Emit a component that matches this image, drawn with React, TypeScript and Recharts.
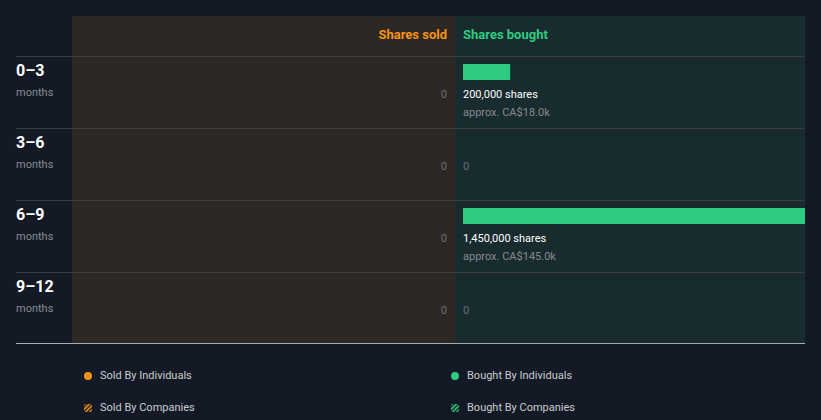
import { Bar, BarChart, LabelList, XAxis, YAxis } from 'recharts'

const periods = ['0–3', '3–6', '6–9', '9–12']
const soldShares = [0, 0, 0, 0]
const boughtShares = [200000, 0, 1450000, 0]
const boughtValue = [18000, 0, 145000, 0]

const legendItems = [
  { label: 'Sold By Individuals', color: '#f7931a', striped: false },
  { label: 'Bought By Individuals', color: '#2ecc80', striped: false },
  { label: 'Sold By Companies', color: '#f7931a', striped: true },
  { label: 'Bought By Companies', color: '#2ecc80', striped: true },
]

const palette = {
  bg: '#141a25',
  sold: '#2d2823',
  bought: '#182b2e',
  green: '#2ecc80',
  orange: '#f7931a',
  grid: '#3a3d3f',
  axis: '#a3aeb2',
  muted: '#858a91',
  zero: '#6b7070',
}

const data = periods.map((period, i) => ({
  period,
  sold: soldShares[i],
  bought: boughtShares[i],
  value: boughtValue[i],
}))

const ROW_HALF = 36
const font = 'Roboto, "Noto Sans", sans-serif'

const fmtK = (v: number) => `CA$${(v / 1000).toFixed(1)}k`

function PeriodTick(props: any) {
  const { y, payload, index } = props
  const last = index === periods.length - 1
  return (
    <g>
      <line x1={16} x2={805} y1={y - ROW_HALF + 0.5} y2={y - ROW_HALF + 0.5} stroke={palette.grid} />
      {last && <line x1={16} x2={805} y1={y + ROW_HALF - 0.5} y2={y + ROW_HALF - 0.5} stroke={palette.axis} />}
      <text x={16} y={y - 16} fill="#ffffff" fontSize={16} fontWeight={700} fontFamily={font}>
        {payload.value}
      </text>
      <text x={16} y={y + 4} fill={palette.muted} fontSize={11} fontFamily={font}>
        months
      </text>
    </g>
  )
}

function BoughtShape(props: any) {
  const { x, y, width, height } = props
  if (!width) return null
  return <rect x={x} y={y - 20} width={width} height={height} fill={palette.green} />
}

// sold and bought bars share one stack, so the bought label also carries the sold value on the left
function RowLabel(props: any) {
  const { x, y, height, value, index } = props
  const c = y + height / 2
  const sold = soldShares[index]
  return (
    <g fontFamily={font} fontSize={11}>
      <text x={x - 16} y={c + 6} textAnchor="end" fill={palette.zero}>
        {sold ? sold.toLocaleString('en-US') : '0'}
      </text>
      {value ? (
        <>
          <text x={x} y={c + 6} fill="#ffffff">
            {`${Number(value).toLocaleString('en-US')} shares`}
          </text>
          <text x={x} y={c + 24} fill={palette.muted}>
            {`approx. ${fmtK(boughtValue[index])}`}
          </text>
        </>
      ) : (
        <text x={x} y={c + 6} fill={palette.zero}>
          0
        </text>
      )}
    </g>
  )
}

function LegendIcon({ color, striped, id }: { color: string; striped: boolean; id: string }) {
  return (
    <svg width={8} height={8} style={{ display: 'block' }}>
      {striped && (
        <defs>
          <pattern id={id} width={3} height={3} patternUnits="userSpaceOnUse" patternTransform="rotate(45)">
            <rect width={1.6} height={3} fill={color} />
          </pattern>
        </defs>
      )}
      <rect x={0} y={0} width={8} height={8} rx={striped ? 2 : 4} fill={striped ? `url(#${id})` : color} />
    </svg>
  )
}

export default function App() {
  return (
    <div
      style={{
        position: 'absolute',
        left: 0,
        top: 0,
        width: 821,
        height: 420,
        background: palette.bg,
        fontFamily: font,
        overflow: 'hidden',
      }}
    >
      <div style={{ position: 'absolute', left: 72, top: 16, width: 383, height: 327, background: palette.sold }} />
      <div style={{ position: 'absolute', left: 455, top: 16, width: 350, height: 327, background: palette.bought }} />
      <div
        style={{
          position: 'absolute',
          left: 72,
          width: 375,
          top: 26,
          textAlign: 'right',
          color: palette.orange,
          fontSize: 13,
          fontWeight: 700,
          lineHeight: '18px',
        }}
      >
        Shares sold
      </div>
      <div
        style={{
          position: 'absolute',
          left: 463,
          top: 26,
          color: palette.green,
          fontSize: 13,
          fontWeight: 700,
          lineHeight: '18px',
        }}
      >
        Shares bought
      </div>
      <div style={{ position: 'absolute', left: 0, top: 0 }}>
        <BarChart
          layout="vertical"
          width={821}
          height={420}
          data={data}
          margin={{ top: 56, right: 16, bottom: 76, left: 16 }}
        >
          <XAxis type="number" domain={[0, 1450000]} hide />
          <YAxis
            type="category"
            dataKey="period"
            width={447}
            axisLine={false}
            tickLine={false}
            tick={<PeriodTick />}
            interval={0}
          />
          <Bar dataKey="sold" stackId="a" barSize={16} fill={palette.orange} isAnimationActive={false} />
          <Bar dataKey="bought" stackId="a" barSize={16} shape={<BoughtShape />} isAnimationActive={false}>
            <LabelList dataKey="bought" content={<RowLabel />} />
          </Bar>
        </BarChart>
      </div>
      {legendItems.map((item, i) => (
        <div
          key={item.label}
          style={{
            position: 'absolute',
            left: i % 2 === 0 ? 84 : 451,
            top: i < 2 ? 369 : 401,
            display: 'flex',
            alignItems: 'center',
            gap: 8,
            color: '#c9ccd0',
            fontSize: 11,
            lineHeight: '14px',
          }}
        >
          <LegendIcon color={item.color} striped={item.striped} id={`stripe-${i}`} />
          <span>{item.label}</span>
        </div>
      ))}
    </div>
  )
}
